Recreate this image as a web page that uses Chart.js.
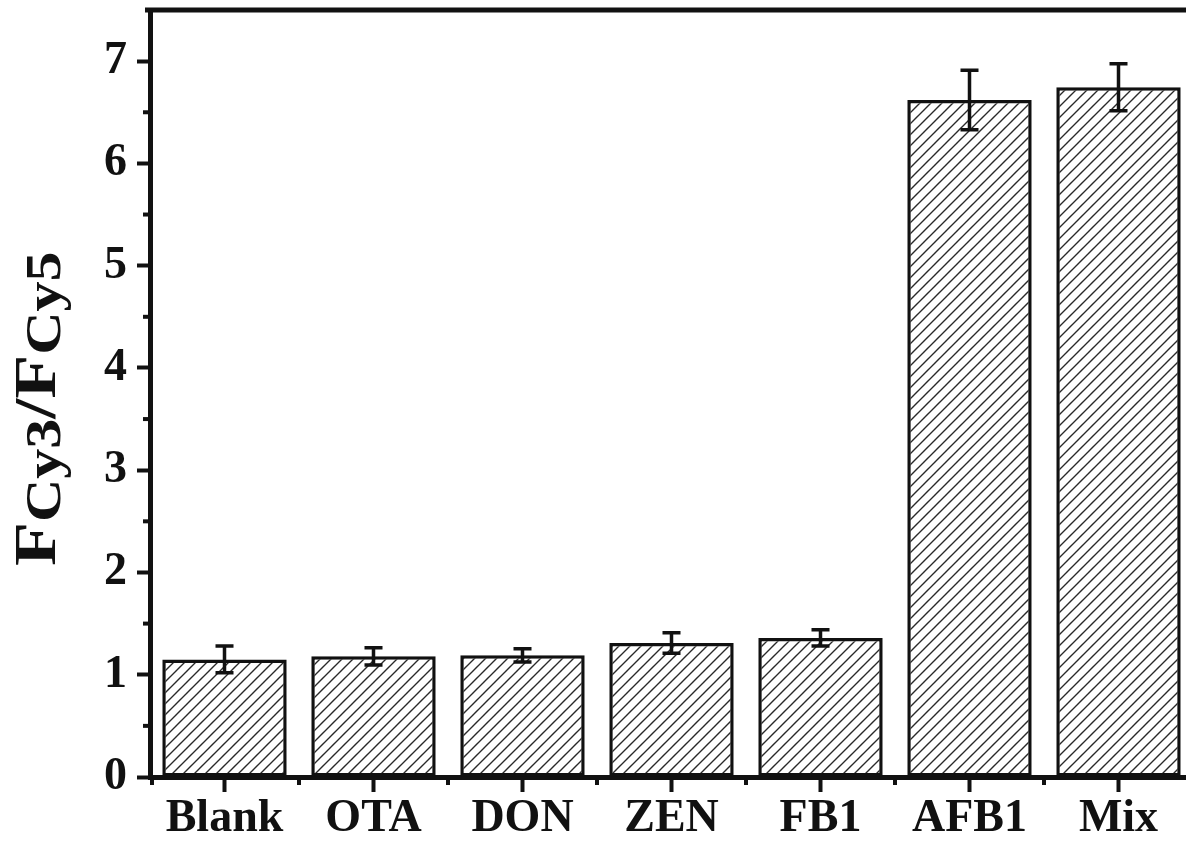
<!DOCTYPE html>
<html>
<head>
<meta charset="utf-8">
<script src="https://cdn.jsdelivr.net/npm/chart.js@4/dist/chart.umd.min.js"></script>
<style>
  html, body { margin: 0; padding: 0; background: #fff; overflow: hidden; width: 1186px; height: 842px; }
  #wrap { position: absolute; left: 0; top: 0; width: 1200px; height: 842px; }
</style>
</head>
<body>
<div id="wrap"><canvas id="c" width="1200" height="842"></canvas></div>
<script>
const categories = ['Blank', 'OTA', 'DON', 'ZEN', 'FB1', 'AFB1', 'Mix'];
const ratioValues = [1.15, 1.18, 1.19, 1.31, 1.36, 6.62, 6.745];
const errorValues = [0.13, 0.085, 0.065, 0.10, 0.08, 0.29, 0.23];
const yTickValues = [0, 1, 2, 3, 4, 5, 6, 7];
const yMinorValues = [0.5, 1.5, 2.5, 3.5, 4.5, 5.5, 6.5];
const titleParts = [
  { text: 'F', sub: false },
  { text: 'Cy3', sub: true },
  { text: '/', sub: false },
  { text: 'F', sub: false },
  { text: 'Cy5', sub: true }
];

const FONT = '"Liberation Serif", "Times New Roman", serif';
const INK = '#111';

function makeHatch() {
  const s = 11;
  const p = document.createElement('canvas');
  p.width = s; p.height = s;
  const g = p.getContext('2d');
  g.fillStyle = '#fff';
  g.fillRect(0, 0, s, s);
  g.strokeStyle = '#2a2a2a';
  g.lineWidth = 1.4;
  g.beginPath();
  g.moveTo(-1, s + 1); g.lineTo(s + 1, -1);
  g.moveTo(-2, 2); g.lineTo(2, -2);
  g.moveTo(s - 2, s + 2); g.lineTo(s + 2, s - 2);
  g.stroke();
  return document.getElementById('c').getContext('2d').createPattern(p, 'repeat');
}

const extras = {
  id: 'extras',
  afterDatasetsDraw(chart) {
    const ctx = chart.ctx;
    const ys = chart.scales.y;
    const meta = chart.getDatasetMeta(0);
    ctx.save();
    ctx.strokeStyle = INK;
    ctx.lineWidth = 3.5;
    meta.data.forEach((bar, i) => {
      const v = ratioValues[i], e = errorValues[i];
      const yt = ys.getPixelForValue(v + e);
      const yb = ys.getPixelForValue(v - e);
      const x = bar.x;
      ctx.beginPath();
      ctx.moveTo(x, yt); ctx.lineTo(x, yb);
      ctx.moveTo(x - 9, yt); ctx.lineTo(x + 9, yt);
      ctx.moveTo(x - 9, yb); ctx.lineTo(x + 9, yb);
      ctx.stroke();
    });
    ctx.restore();
  },
  afterDraw(chart) {
    const ctx = chart.ctx;
    const ca = chart.chartArea;
    const ys = chart.scales.y;
    ctx.save();
    ctx.strokeStyle = INK;
    // top frame line
    ctx.lineWidth = 5;
    ctx.beginPath();
    ctx.moveTo(ca.left - 5, ca.top);
    ctx.lineTo(ca.right + 5, ca.top);
    ctx.stroke();
    // y minor ticks
    ctx.lineWidth = 4;
    yMinorValues.forEach(v => {
      const y = ys.getPixelForValue(v);
      ctx.beginPath();
      ctx.moveTo(ca.left - 7, y);
      ctx.lineTo(ca.left, y);
      ctx.stroke();
    });
    // x minor ticks at category boundaries
    const w = (ca.right - ca.left) / categories.length;
    for (let i = 0; i <= categories.length; i++) {
      const x = ca.left + i * w + (i === 0 ? 2 : 0);
      ctx.beginPath();
      ctx.moveTo(x, ca.bottom);
      ctx.lineTo(x, ca.bottom + 8);
      ctx.stroke();
    }
    // y axis title with subscripts
    ctx.fillStyle = INK;
    ctx.translate(55, 566);
    ctx.rotate(-Math.PI / 2);
    ctx.scale(1.2, 1);
    ctx.textBaseline = 'alphabetic';
    ctx.textAlign = 'left';
    let xp = 0;
    titleParts.forEach(p => {
      ctx.font = p.sub ? 'bold 50px ' + FONT : 'bold 60px ' + FONT;
      ctx.fillText(p.text, xp, p.sub ? 5 : 0);
      xp += ctx.measureText(p.text).width;
    });
    ctx.restore();
  }
};

const hatch = makeHatch();

new Chart(document.getElementById('c'), {
  type: 'bar',
  data: {
    labels: categories,
    datasets: [{
      data: ratioValues,
      backgroundColor: hatch,
      borderColor: INK,
      borderWidth: 3.5,
      borderSkipped: false,
      barPercentage: 0.835,
      categoryPercentage: 1.0
    }]
  },
  options: {
    responsive: false,
    animation: false,
    devicePixelRatio: 1,
    layout: { padding: { top: 10, right: 7, left: 0, bottom: 0 } },
    plugins: { legend: { display: false }, tooltip: { enabled: false }, title: { display: false } },
    scales: {
      x: {
        offset: true,
        grid: { display: true, drawOnChartArea: false, drawTicks: true, offset: false, tickLength: 15, tickWidth: 4, tickColor: INK },
        border: { display: true, color: INK, width: 5 },
        ticks: { color: INK, font: { family: FONT, size: 46, weight: 'bold' }, padding: 0, maxRotation: 0, autoSkip: false },
        afterFit(scale) {
          scale.height = 842 - 777;
          scale.paddingLeft = 0; scale.paddingRight = 0;
        }
      },
      y: {
        min: 0,
        max: 7.5,
        grid: { display: true, drawOnChartArea: false, drawTicks: true, tickLength: 13, tickWidth: 4, tickColor: INK },
        border: { display: true, color: INK, width: 5 },
        ticks: {
          stepSize: 1,
          color: INK,
          font: { family: FONT, size: 46, weight: 'bold' },
          padding: 10
        },
        afterBuildTicks(scale) {
          scale.ticks = yTickValues.map(v => ({ value: v }));
        },
        afterFit(scale) {
          scale.width = 150;
          scale.paddingTop = 0; scale.paddingBottom = 0;
        }
      }
    }
  },
  plugins: [extras]
});
</script>
</body>
</html>
